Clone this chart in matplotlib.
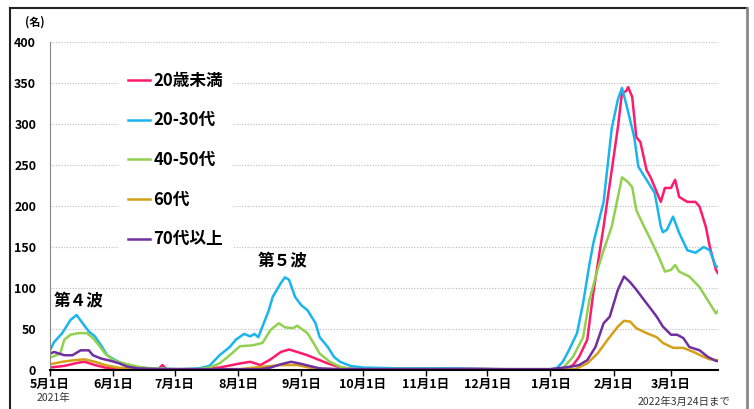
import matplotlib
matplotlib.use('Agg')
import matplotlib.pyplot as plt
from matplotlib.lines import Line2D

plt.rcParams['font.family'] = ['Noto Sans CJK JP', 'DejaVu Sans']

# x は 2021年5月1日からの経過日数
labels = ['20歳未満', '20-30代', '40-50代', '60代', '70代以上']
colors = ['#ff1a6e', '#1ab4ef', '#92d050', '#d4a017', '#7030a0']

u20_day = [0, 7, 14, 17, 22, 27, 34, 53, 55, 57, 73, 83, 93, 98, 103, 108, 113, 117, 121, 126,
           131, 136, 141, 145, 152, 196, 245, 253, 256, 259, 263, 266, 271, 275, 278, 280, 282, 283, 285, 287,
           289, 292, 294, 296, 299, 301, 304, 306, 308, 312, 316, 318, 321, 323, 326, 327]
u20_val = [3, 5, 9, 10, 6, 3, 1, 1, 6, 1, 1, 3, 8, 10, 6, 13, 22, 25, 22, 18,
           13, 8, 4, 2, 1, 2, 0, 2, 6, 16, 37, 95, 175, 244, 296, 338, 340, 345, 333, 284,
           278, 244, 235, 223, 205, 222, 222, 232, 211, 205, 205, 199, 175, 150, 122, 118]

a2030_day = [0, 2, 6, 10, 13, 16, 19, 22, 25, 28, 32, 37, 42, 49, 64, 73, 78, 83, 88, 91,
             95, 98, 100, 102, 104, 107, 109, 113, 115, 117, 120, 123, 126, 130, 132, 136, 139, 142, 147, 153,
             171, 196, 220, 245, 248, 251, 254, 258, 261, 264, 266, 271, 275, 278, 280, 282, 286, 288, 292, 296,
             299, 300, 302, 305, 308, 312, 316, 320, 323, 326, 327]
a2030_val = [24, 34, 45, 61, 67, 57, 47, 41, 30, 18, 12, 6, 3, 2, 1, 2, 5, 18, 28, 37,
             44, 41, 44, 40, 53, 72, 89, 106, 113, 110, 89, 79, 73, 57, 40, 28, 16, 10, 5, 3,
             2, 2, 1, 1, 2, 10, 24, 45, 82, 128, 155, 205, 295, 330, 344, 325, 284, 248, 232, 216,
             175, 168, 171, 187, 167, 146, 143, 150, 146, 126, 126]

a4050_day = [0, 5, 7, 10, 14, 18, 21, 24, 27, 30, 33, 38, 43, 49, 59, 73, 78, 83, 88, 93,
             99, 104, 108, 112, 115, 119, 121, 126, 129, 132, 137, 142, 148, 196, 245, 251, 256, 261, 264, 268,
             271, 275, 278, 280, 283, 285, 287, 290, 294, 298, 301, 304, 306, 308, 313, 318, 322, 326, 327]
a4050_val = [15, 20, 37, 43, 45, 45, 39, 30, 20, 14, 10, 7, 4, 2, 1, 1, 3, 8, 18, 29,
             30, 33, 49, 57, 52, 51, 54, 45, 33, 20, 10, 4, 1, 1, 0, 2, 16, 40, 85, 122,
             146, 175, 211, 235, 229, 223, 195, 179, 159, 138, 120, 122, 128, 120, 114, 101, 85, 69, 72]

a60_day = [0, 6, 12, 17, 22, 27, 33, 42, 93, 100, 113, 121, 127, 132, 257, 263, 268, 273, 278, 281,
           284, 287, 292, 297, 300, 305, 310, 315, 320, 323, 327]
a60_val = [7, 10, 12, 13, 10, 6, 3, 1, 1, 3, 6, 6, 3, 1, 1, 8, 20, 37, 53, 60,
           59, 51, 45, 40, 33, 27, 27, 22, 16, 13, 12]

a70_day = [0, 2, 7, 11, 15, 19, 21, 25, 30, 34, 38, 43, 54, 103, 108, 113, 118, 122, 127, 132,
           142, 245, 255, 259, 263, 267, 271, 274, 278, 281, 284, 287, 290, 294, 297, 300, 304, 307, 310, 313,
           318, 322, 326, 327]
a70_val = [20, 22, 18, 18, 24, 24, 18, 14, 11, 8, 4, 2, 1, 1, 3, 7, 10, 8, 5, 2,
           1, 1, 4, 6, 12, 28, 57, 65, 98, 114, 107, 98, 88, 75, 65, 53, 43, 43, 39, 28,
           24, 16, 11, 11]

month_day = [0, 31, 61, 92, 123, 153, 184, 214, 245, 276, 304]
month_lbl = ['5月1日', '6月1日', '7月1日', '8月1日', '9月1日', '10月1日', '11月1日',
             '12月1日', '1月1日', '2月1日', '3月1日']
y_ticks = [0, 50, 100, 150, 200, 250, 300, 350, 400]

fig = plt.figure(figsize=(7.54, 4.09), dpi=100)
ax = fig.add_axes([50 / 754, 39 / 409, 668 / 754, 328 / 409])

series = [(u20_day, u20_val), (a2030_day, a2030_val), (a4050_day, a4050_val),
          (a60_day, a60_val), (a70_day, a70_val)]
for (d, v), lab, c in zip(series, labels, colors):
    ax.plot(d, v, color=c, lw=1.8, label=lab, solid_joinstyle='round')

ax.set_xlim(0, 327)
ax.set_ylim(0, 400)
ax.set_yticks(y_ticks)
ax.set_yticklabels([str(t) for t in y_ticks], fontsize=9, fontweight='bold')
ax.set_xticks(month_day)
ax.set_xticklabels(month_lbl, fontsize=9, fontweight='bold')
ax.tick_params(axis='y', length=0, pad=10)
ax.tick_params(axis='x', length=4, width=1, direction='out', pad=2)

ax.yaxis.grid(True, linestyle=(0, (1, 1.5)), color='#bbbbbb', lw=0.8)
ax.set_axisbelow(True)
for s in ['top', 'right']:
    ax.spines[s].set_visible(False)
ax.spines['left'].set_color('#888888')
ax.spines['bottom'].set_color('black')
ax.spines['bottom'].set_linewidth(1.5)

leg = ax.legend(loc='upper left', bbox_to_anchor=(0.102, 0.94), frameon=True,
                facecolor='white', edgecolor='none', framealpha=1,
                prop={'size': 12, 'weight': 'bold'}, handlelength=1.3,
                handletextpad=0.2, labelspacing=1.3, borderaxespad=0, borderpad=0.6)

ax.text(14, 85, '第４波', fontsize=12, fontweight='bold', ha='center', va='center')
ax.text(114, 134, '第５波', fontsize=12, fontweight='bold', ha='center', va='center')

fig.text(25 / 754, 1 - 22 / 409, '(名)', fontsize=8, fontweight='bold', va='center')
fig.text(53 / 754, 1 - 398 / 409, '2021年', fontsize=7.5, ha='center', va='center', color='#333333')
fig.text(730 / 754, 1 - 402 / 409, '2022年3月24日まで', fontsize=7.5, ha='right', va='center',
         color='#333333')

# 外枠
fig.add_artist(Line2D([10 / 754, 10 / 754], [0, 1 - 8 / 409], transform=fig.transFigure, color='#222222', lw=1.5))
fig.add_artist(Line2D([10 / 754, 747 / 754], [1 - 8 / 409, 1 - 8 / 409], transform=fig.transFigure, color='#222222', lw=1.5))
fig.add_artist(Line2D([747 / 754, 747 / 754], [0, 1 - 8 / 409], transform=fig.transFigure, color='#888888', lw=2))

fig.savefig('out.png', dpi=100)
